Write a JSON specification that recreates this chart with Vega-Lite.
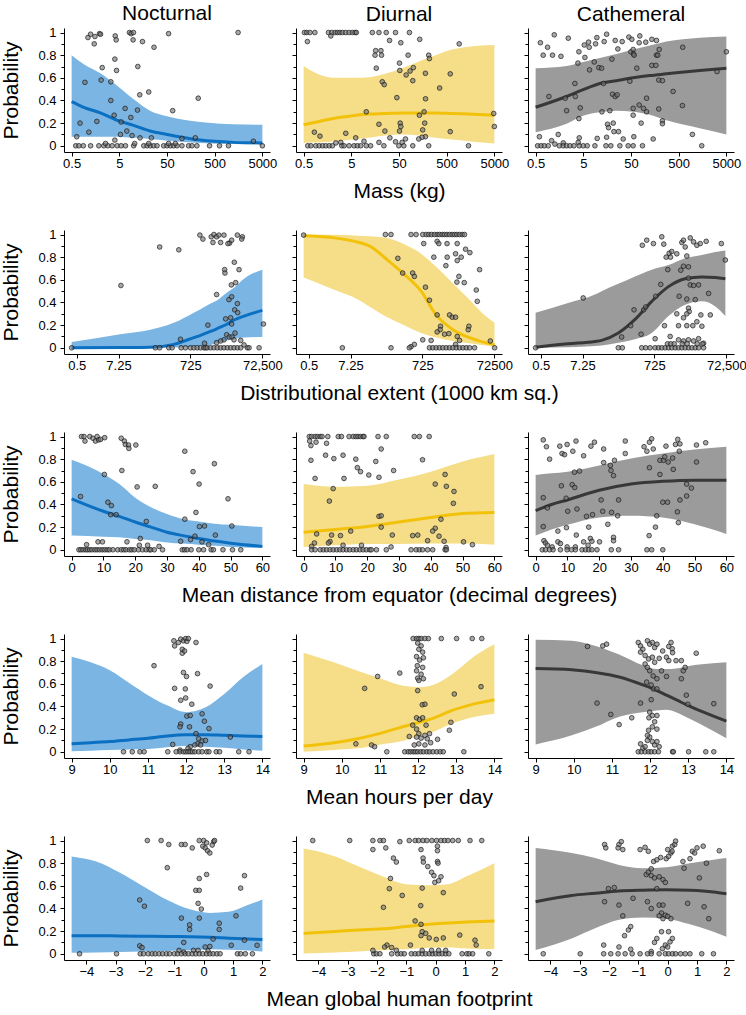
{
  "$schema": "https://vega.github.io/schema/vega-lite/v6.json",
  "background": "white",
  "padding": {"left": 0, "top": 2, "right": 0, "bottom": 2},
  "config": {
    "font": "Liberation Sans",
    "view": {"stroke": null},
    "title": {"font": "Liberation Sans", "fontSize": 21, "fontWeight": "normal", "color": "#000", "offset": 3},
    "axis": {"grid": false, "domainColor": "#000", "tickColor": "#000", "tickSize": 4, "labelFont": "Liberation Sans", "labelFontSize": 13, "labelColor": "#000", "labelPadding": 4, "titleFont": "Liberation Sans", "titleFontSize": 21, "titleFontWeight": "normal", "titleColor": "#000", "titlePadding": 16},
    "axisX": {"tickSize": 4, "labelPadding": 1, "titlePadding": 10}
  },
  "datasets": {
    "p1N": [
      {"x":1.10,"y":0.956},{"x":1.25,"y":0.985},{"x":1.54,"y":0.965},{"x":1.49,"y":0.90},{"x":1.92,"y":0.99},{"x":2.02,"y":0.985},{"x":4.1,"y":0.97},{"x":4.3,"y":0.935},{"x":8.16,"y":1},{"x":8.84,"y":0.99},{"x":9.89,"y":1},{"x":9.73,"y":0.935},{"x":15.3,"y":0.92},{"x":26.7,"y":0.87},{"x":54,"y":0.99},{"x":1549,"y":1},
      {"x":4.03,"y":0.765},{"x":4.37,"y":0.665},{"x":2.19,"y":0.69},{"x":12.2,"y":0.70},{"x":0.95,"y":0.56},{"x":2.08,"y":0.58},{"x":3.32,"y":0.565},{"x":20.7,"y":0.475},{"x":13.4,"y":0.45},{"x":226,"y":0.42},{"x":3.32,"y":0.40},{"x":65.8,"y":0.31},{"x":12.0,"y":0.315},{"x":6.62,"y":0.33},{"x":3.9,"y":0.27},{"x":5.46,"y":0.21},{"x":8.71,"y":0.25},{"x":1.69,"y":0.215},{"x":0.75,"y":0.20},{"x":7.18,"y":0.13},{"x":1.15,"y":0.12},{"x":5.29,"y":0.10},{"x":9.27,"y":0.09},{"x":0.64,"y":0.08},{"x":4.03,"y":0.05},{"x":13.6,"y":0.07},{"x":23.5,"y":0.07},{"x":196,"y":0.07},{"x":103,"y":0.065},{"x":3243,"y":0.04},
      {"x":0.61,"y":0},{"x":0.71,"y":0},{"x":0.88,"y":0},{"x":1.25,"y":0},{"x":1.86,"y":0},{"x":2.37,"y":0},{"x":2.88,"y":0},{"x":3.54,"y":0},{"x":4.51,"y":0},{"x":5.46,"y":0},{"x":6.73,"y":0},{"x":10,"y":0},{"x":16.3,"y":0},{"x":19.1,"y":0},{"x":22.4,"y":0},{"x":26.3,"y":0},{"x":30.9,"y":0},{"x":42.6,"y":0},{"x":50,"y":0},{"x":58.7,"y":0},{"x":68.9,"y":0},{"x":81,"y":0},{"x":103,"y":0},{"x":142,"y":0},{"x":167,"y":0},{"x":212,"y":0},{"x":390,"y":0},{"x":631,"y":0},{"x":973,"y":0},{"x":5000,"y":0},
      {"x":2.57,"y":0.02},{"x":10.5,"y":0.02},{"x":20.7,"y":0.02},{"x":54,"y":0.02},{"x":74.7,"y":0.02}
    ],
    "f1N": [
      {"x":0.5,"lo":0.08,"fit":0.39,"hi":0.80},{"x":0.9,"lo":0.08,"fit":0.34,"hi":0.72},{"x":2,"lo":0.08,"fit":0.29,"hi":0.64},{"x":4.2,"lo":0.08,"fit":0.23,"hi":0.54},{"x":10,"lo":0.07,"fit":0.18,"hi":0.41},{"x":22,"lo":0.06,"fit":0.13,"hi":0.31},{"x":50,"lo":0.045,"fit":0.10,"hi":0.26},{"x":250,"lo":0.025,"fit":0.05,"hi":0.21},{"x":1250,"lo":0.015,"fit":0.03,"hi":0.19},{"x":5000,"lo":0.012,"fit":0.025,"hi":0.185}
    ],
    "p1D": [
      {"x":0.52,"y":1},{"x":0.58,"y":1},{"x":0.68,"y":1},{"x":0.86,"y":1},{"x":1.66,"y":1},{"x":1.95,"y":1},{"x":2.29,"y":1},{"x":2.56,"y":1},{"x":2.87,"y":1},{"x":3.26,"y":1},{"x":3.82,"y":1},{"x":4.49,"y":1},{"x":5.27,"y":1},{"x":5.99,"y":1},{"x":6.38,"y":1},{"x":13.8,"y":1},{"x":19.0,"y":1},{"x":27.0,"y":1},{"x":42.3,"y":1},{"x":82.8,"y":1},
      {"x":0.6,"y":0.92},{"x":1.86,"y":0.97},{"x":31.7,"y":0.93},{"x":54.6,"y":0.91},{"x":136,"y":0.94},{"x":916,"y":0.90},{"x":16.2,"y":0.84},{"x":20.9,"y":0.84},{"x":15.7,"y":0.80},{"x":21.5,"y":0.80},{"x":77.7,"y":0.80},{"x":210,"y":0.80},{"x":217,"y":0.77},{"x":51.2,"y":0.73},{"x":16.7,"y":0.685},{"x":100,"y":0.69},{"x":52,"y":0.665},{"x":85.5,"y":0.66},{"x":70.6,"y":0.625},{"x":179,"y":0.64},{"x":594,"y":0.635},{"x":22.3,"y":0.565},{"x":24.5,"y":0.54},{"x":97.2,"y":0.575},{"x":356,"y":0.51},{"x":45.1,"y":0.425},{"x":180,"y":0.415},{"x":10.3,"y":0.30},{"x":134,"y":0.27},{"x":168,"y":0.30},{"x":4842,"y":0.285},{"x":19.0,"y":0.19},{"x":52.9,"y":0.20},{"x":54.6,"y":0.17},{"x":173,"y":0.20},{"x":5000,"y":0.17},{"x":0.84,"y":0.12},{"x":1.10,"y":0.085},{"x":3.82,"y":0.11},{"x":25.3,"y":0.13},{"x":51.2,"y":0.13},{"x":157,"y":0.14},{"x":594,"y":0.125},{"x":179,"y":0.08},{"x":152,"y":0.075},{"x":6.18,"y":0.07},{"x":32.2,"y":0.07},{"x":68.4,"y":0.06},{"x":130,"y":0.06},{"x":3.01,"y":0.03},{"x":9.23,"y":0.04},{"x":19.0,"y":0.03},{"x":42.3,"y":0.035},{"x":58.2,"y":0.03},{"x":2.37,"y":0.025},
      {"x":0.61,"y":0},{"x":0.71,"y":0},{"x":0.90,"y":0},{"x":1.06,"y":0},{"x":1.25,"y":0},{"x":1.46,"y":0},{"x":1.72,"y":0},{"x":2.01,"y":0},{"x":3.16,"y":0},{"x":3.53,"y":0},{"x":4.49,"y":0},{"x":5.71,"y":0},{"x":6.70,"y":0},{"x":7.87,"y":0},{"x":10.3,"y":0},{"x":12.7,"y":0},{"x":24.1,"y":0},{"x":49.6,"y":0},{"x":63.1,"y":0},{"x":97.2,"y":0},{"x":210,"y":0},{"x":1432,"y":0}
    ],
    "f1D": [
      {"x":0.5,"lo":0.025,"fit":0.185,"hi":0.705},{"x":1.06,"lo":0.03,"fit":0.215,"hi":0.63},{"x":2.37,"lo":0.04,"fit":0.245,"hi":0.60},{"x":5.27,"lo":0.055,"fit":0.265,"hi":0.60},{"x":11.7,"lo":0.07,"fit":0.28,"hi":0.605},{"x":26,"lo":0.09,"fit":0.285,"hi":0.635},{"x":58,"lo":0.10,"fit":0.29,"hi":0.685},{"x":130,"lo":0.09,"fit":0.29,"hi":0.745},{"x":290,"lo":0.07,"fit":0.29,"hi":0.80},{"x":644,"lo":0.055,"fit":0.285,"hi":0.85},{"x":1432,"lo":0.04,"fit":0.28,"hi":0.875},{"x":5000,"lo":0.02,"fit":0.27,"hi":0.89}
    ],
    "p1C": [
      {"x":0.63,"y":0.91},{"x":1.23,"y":0.98},{"x":0.89,"y":0.87},{"x":0.72,"y":0.80},{"x":1.13,"y":0.80},{"x":1.70,"y":0.79},{"x":2.42,"y":0.95},{"x":4.04,"y":0.83},{"x":3.85,"y":0.73},{"x":5.23,"y":0.89},{"x":5.40,"y":0.78},{"x":6.44,"y":0.915},{"x":6.65,"y":0.87},{"x":6.76,"y":0.67},{"x":8.47,"y":0.74},{"x":9.03,"y":0.90},{"x":9.62,"y":0.955},{"x":10.6,"y":0.69},{"x":12.1,"y":0.685},{"x":13.7,"y":0.92},{"x":15.4,"y":0.985},{"x":19.9,"y":0.765},{"x":23.3,"y":0.93},{"x":26.5,"y":0.855},{"x":32.7,"y":0.92},{"x":45.1,"y":0.96},{"x":49.7,"y":0.83},{"x":52.0,"y":0.94},{"x":55.5,"y":0.85},{"x":56.4,"y":0.81},{"x":58.2,"y":0.80},{"x":74.1,"y":0.91},{"x":76.5,"y":0.97},{"x":102,"y":0.915},{"x":137,"y":0.94},{"x":171,"y":0.93},{"x":171,"y":0.80},{"x":195,"y":0.85},{"x":182,"y":0.80},{"x":66.2,"y":0.685},{"x":137,"y":0.71},{"x":166,"y":0.71},{"x":608,"y":0.87},{"x":5000,"y":0.83},{"x":3191,"y":0.655},
      {"x":3.33,"y":0.55},{"x":0.95,"y":0.435},{"x":2.09,"y":0.42},{"x":3.4,"y":0.435},{"x":13.3,"y":0.55},{"x":20.5,"y":0.455},{"x":23.3,"y":0.435},{"x":25.6,"y":0.45},{"x":47.3,"y":0.57},{"x":106,"y":0.42},{"x":191,"y":0.58},{"x":228,"y":0.575},{"x":382,"y":0.48},
      {"x":2.23,"y":0.31},{"x":4.31,"y":0.335},{"x":4.04,"y":0.24},{"x":12.3,"y":0.30},{"x":18.0,"y":0.31},{"x":55.5,"y":0.33},{"x":55.5,"y":0.27},{"x":74.1,"y":0.36},{"x":91.4,"y":0.33},{"x":106,"y":0.30},{"x":191,"y":0.325},{"x":599,"y":0.355},{"x":228,"y":0.22},{"x":228,"y":0.195},{"x":81.6,"y":0.20},
      {"x":16.1,"y":0.19},{"x":16.9,"y":0.16},{"x":21.9,"y":0.125},{"x":27.4,"y":0.125},{"x":21.2,"y":0.20},{"x":1.49,"y":0.10},{"x":0.60,"y":0.08},{"x":1.08,"y":0.045},{"x":1.90,"y":0.025},{"x":4.11,"y":0.07},{"x":9.78,"y":0.065},{"x":15.4,"y":0.075},{"x":34.3,"y":0.06},{"x":57.3,"y":0.08},{"x":146,"y":0.06},{"x":970,"y":0.10},{"x":1.27,"y":0.015},{"x":3.91,"y":0.03},
      {"x":0.55,"y":0},{"x":0.65,"y":0},{"x":0.76,"y":0},{"x":0.92,"y":0},{"x":1.57,"y":0},{"x":1.90,"y":0},{"x":2.23,"y":0},{"x":2.62,"y":0},{"x":3.18,"y":0},{"x":4.11,"y":0},{"x":4.98,"y":0},{"x":6.04,"y":0},{"x":8.75,"y":0},{"x":14.9,"y":0},{"x":18.9,"y":0},{"x":29.2,"y":0},{"x":43.6,"y":0},{"x":55.5,"y":0},{"x":87.1,"y":0},{"x":1521,"y":0}
    ],
    "f1C": [
      {"x":0.5,"lo":0.12,"fit":0.34,"hi":0.685},{"x":2.23,"lo":0.195,"fit":0.435,"hi":0.705},{"x":4.98,"lo":0.265,"fit":0.495,"hi":0.74},{"x":11.1,"lo":0.295,"fit":0.55,"hi":0.775},{"x":24.8,"lo":0.31,"fit":0.575,"hi":0.81},{"x":55.5,"lo":0.30,"fit":0.60,"hi":0.85},{"x":124,"lo":0.275,"fit":0.62,"hi":0.885},{"x":276,"lo":0.225,"fit":0.635,"hi":0.92},{"x":1380,"lo":0.155,"fit":0.665,"hi":0.955},{"x":5000,"lo":0.10,"fit":0.685,"hi":0.965}
    ],
    "p2N": [
      {"x":0.36,"y":0},{"x":8.45,"y":0.55},{"x":101,"y":0.89},{"x":344,"y":0.865},{"x":1324,"y":0.995},{"x":1607,"y":0.96},{"x":2745,"y":0.98},{"x":3258,"y":1},{"x":3867,"y":0.98},{"x":4490,"y":0.995},{"x":6194,"y":0.995},{"x":8914,"y":0.925},{"x":14590,"y":0.995},{"x":20130,"y":0.98},{"x":19280,"y":0.96},
      {"x":3055,"y":0.93},{"x":5000,"y":0.93},{"x":8000,"y":0.92},{"x":10140,"y":0.95},
      {"x":6459,"y":0.69},{"x":6600,"y":0.66},{"x":16250,"y":0.69},{"x":12030,"y":0.755},{"x":13120,"y":0.575},{"x":9930,"y":0.555},
      {"x":3867,"y":0.47},{"x":8534,"y":0.425},{"x":10140,"y":0.45},{"x":14590,"y":0.39},{"x":12300,"y":0.335},{"x":14900,"y":0.31},
      {"x":6888,"y":0.255},{"x":9500,"y":0.265},{"x":10140,"y":0.21},{"x":2214,"y":0.20},{"x":77600,"y":0.21},
      {"x":383,"y":0.075},{"x":7345,"y":0.115},{"x":8724,"y":0.095},{"x":10360,"y":0.095},{"x":12560,"y":0.13},{"x":6194,"y":0.07},{"x":1788,"y":0.04},{"x":3867,"y":0.045},{"x":5000,"y":0.06},{"x":11780,"y":0.07},{"x":18090,"y":0.065},{"x":22390,"y":0.025},
      {"x":76.8,"y":0},{"x":101,"y":0},{"x":181,"y":0},{"x":224,"y":0},{"x":399,"y":0},{"x":527,"y":0},{"x":727,"y":0},{"x":901,"y":0},{"x":1116,"y":0},{"x":1383,"y":0},{"x":1714,"y":0},{"x":1906,"y":0},{"x":2122,"y":0},{"x":2628,"y":0},{"x":3258,"y":0},{"x":4035,"y":0},{"x":5000,"y":0},{"x":6194,"y":0},{"x":7671,"y":0},{"x":9500,"y":0},{"x":11780,"y":0},{"x":14590,"y":0},{"x":18090,"y":0},{"x":27730,"y":0},{"x":30900,"y":0},{"x":58750,"y":0}
    ],
    "f2N": [
      {"x":0.36,"lo":0,"fit":0,"hi":0.05},{"x":8.1,"lo":0,"fit":0.002,"hi":0.12},{"x":55.7,"lo":0,"fit":0.005,"hi":0.16},{"x":249,"lo":0.003,"fit":0.03,"hi":0.22},{"x":901,"lo":0.01,"fit":0.09,"hi":0.31},{"x":1383,"lo":0.015,"fit":0.11,"hi":0.34},{"x":2628,"lo":0.025,"fit":0.145,"hi":0.39},{"x":4035,"lo":0.045,"fit":0.17,"hi":0.42},{"x":7671,"lo":0.065,"fit":0.21,"hi":0.49},{"x":11780,"lo":0.08,"fit":0.245,"hi":0.53},{"x":22390,"lo":0.09,"fit":0.28,"hi":0.61},{"x":72500,"lo":0.095,"fit":0.33,"hi":0.69}
    ],
    "p2D": [
      {"x":0.36,"y":0.995},{"x":4.3,"y":0},
      {"x":67.6,"y":1},{"x":96.8,"y":1},{"x":349,"y":1},{"x":482,"y":1},{"x":738,"y":1},{"x":917,"y":1},{"x":1086,"y":1},{"x":1291,"y":1},{"x":1567,"y":1},{"x":1858,"y":1},{"x":2158,"y":1},{"x":2566,"y":1},{"x":2979,"y":1},{"x":3459,"y":1},{"x":4106,"y":1},{"x":4872,"y":1},{"x":5664,"y":1},{"x":6577,"y":1},{"x":7800,"y":1},{"x":9268,"y":1},{"x":10740,"y":1},
      {"x":787,"y":0.92},{"x":1858,"y":0.94},{"x":2067,"y":0.92},{"x":3500,"y":0.92},{"x":6700,"y":0.92},{"x":11460,"y":0.87},
      {"x":150,"y":0.79},{"x":1500,"y":0.80},{"x":3531,"y":0.80},{"x":6041,"y":0.83},{"x":6720,"y":0.77},{"x":8676,"y":0.80},{"x":15100,"y":0.84},
      {"x":3246,"y":0.725},{"x":28110,"y":0.69},{"x":7475,"y":0.63},{"x":6577,"y":0.58},{"x":10520,"y":0.575},{"x":204,"y":0.66},{"x":387,"y":0.66},{"x":432,"y":0.63},
      {"x":879,"y":0.535},{"x":22730,"y":0.51},{"x":24260,"y":0.41},{"x":1135,"y":0.42},
      {"x":1858,"y":0.29},{"x":4106,"y":0.29},{"x":4872,"y":0.27},{"x":6041,"y":0.27},
      {"x":2302,"y":0.19},{"x":14190,"y":0.19},{"x":2256,"y":0.16},{"x":1858,"y":0.14},{"x":2979,"y":0.12},{"x":3935,"y":0.125},{"x":13590,"y":0.16},{"x":6720,"y":0.10},{"x":1265,"y":0.065},{"x":7800,"y":0.065},{"x":738,"y":0.07},{"x":349,"y":0.01},{"x":432,"y":0.03},{"x":55840,"y":0.06},{"x":6041,"y":0.03},
      {"x":96.8,"y":0},{"x":313,"y":0},{"x":1135,"y":0},{"x":1406,"y":0},{"x":1742,"y":0},{"x":2158,"y":0},{"x":2674,"y":0},{"x":3314,"y":0},{"x":4106,"y":0},{"x":5083,"y":0},{"x":6310,"y":0},{"x":7800,"y":0},{"x":9663,"y":0},{"x":11960,"y":0},{"x":14820,"y":0},{"x":20400,"y":0},{"x":73620,"y":0}
    ],
    "f2D": [
      {"x":0.36,"lo":0.62,"fit":0.99,"hi":0.995},{"x":2.0,"lo":0.525,"fit":0.975,"hi":0.998},{"x":12.6,"lo":0.42,"fit":0.93,"hi":0.99},{"x":24,"lo":0.365,"fit":0.90,"hi":0.985},{"x":87.5,"lo":0.26,"fit":0.76,"hi":0.965},{"x":204,"lo":0.205,"fit":0.66,"hi":0.92},{"x":665,"lo":0.13,"fit":0.50,"hi":0.83},{"x":1742,"lo":0.09,"fit":0.29,"hi":0.715},{"x":5083,"lo":0.06,"fit":0.16,"hi":0.57},{"x":14820,"lo":0.04,"fit":0.09,"hi":0.425},{"x":41400,"lo":0.02,"fit":0.045,"hi":0.28},{"x":73000,"lo":0.012,"fit":0.025,"hi":0.22}
    ],
    "p2C": [
      {"x":0.36,"y":0},{"x":7.57,"y":0.44},{"x":71.6,"y":0},{"x":92.7,"y":0},{"x":88.7,"y":0.095},{"x":158,"y":0.195},{"x":196,"y":0.335},{"x":308,"y":0.12},{"x":334,"y":0.905},{"x":442,"y":0.95},{"x":364,"y":0.335},{"x":414,"y":0.36},{"x":679,"y":0.92},{"x":787,"y":0.455},{"x":1086,"y":0.56},{"x":1157,"y":0.98},{"x":1316,"y":0.915},{"x":757,"y":0.08},{"x":1377,"y":0.195},{"x":1535,"y":0.80},{"x":1703,"y":0.69},{"x":1862,"y":0.835},{"x":2023,"y":0.80},{"x":2197,"y":0.85},{"x":3027,"y":0.83},{"x":3530,"y":0.455},{"x":3920,"y":0.685},{"x":4180,"y":0.93},{"x":4660,"y":0.95},{"x":5190,"y":0.89},{"x":5750,"y":0.81},{"x":4660,"y":0.72},{"x":6410,"y":0.715},{"x":7160,"y":0.97},{"x":8850,"y":0.935},{"x":10940,"y":0.905},{"x":13620,"y":0.92},{"x":19900,"y":0.94},{"x":6410,"y":0.615},{"x":7160,"y":0.555},{"x":8850,"y":0.55},{"x":12210,"y":0.555},{"x":23200,"y":0.48},{"x":52500,"y":0.92},{"x":67900,"y":0.775},{"x":25880,"y":0.29},{"x":14130,"y":0.29},{"x":9860,"y":0.425},{"x":5750,"y":0.43},{"x":6410,"y":0.35},{"x":6710,"y":0.32},{"x":5750,"y":0.30},{"x":4660,"y":0.265},{"x":3380,"y":0.195},{"x":5750,"y":0.195},{"x":8460,"y":0.195},{"x":10940,"y":0.23},{"x":3027,"y":0.30},{"x":15100,"y":0.19},
      {"x":1982,"y":0.10},{"x":3380,"y":0.07},{"x":4660,"y":0.06},{"x":6410,"y":0.07},{"x":8850,"y":0.06},{"x":12210,"y":0.08},{"x":16830,"y":0.04},
      {"x":320,"y":0},{"x":414,"y":0},{"x":549,"y":0},{"x":757,"y":0},{"x":935,"y":0},{"x":1157,"y":0},{"x":1439,"y":0},{"x":1778,"y":0},{"x":2197,"y":0},{"x":2735,"y":0},{"x":3380,"y":0},{"x":4180,"y":0},{"x":5190,"y":0},{"x":6410,"y":0},{"x":7940,"y":0},{"x":9860,"y":0},{"x":12210,"y":0},{"x":16830,"y":0},
      {"x":1667,"y":0.035},{"x":2063,"y":0.035},{"x":2565,"y":0.035},{"x":4300,"y":0.035},{"x":5900,"y":0.035},{"x":11200,"y":0.035},{"x":15500,"y":0.035}
    ],
    "f2C": [
      {"x":0.36,"lo":0,"fit":0.005,"hi":0.31},{"x":2.88,"lo":0.005,"fit":0.035,"hi":0.395},{"x":16,"lo":0.015,"fit":0.055,"hi":0.47},{"x":24.6,"lo":0.02,"fit":0.065,"hi":0.50},{"x":71.8,"lo":0.045,"fit":0.13,"hi":0.565},{"x":209,"lo":0.075,"fit":0.25,"hi":0.63},{"x":610,"lo":0.13,"fit":0.41,"hi":0.69},{"x":1778,"lo":0.28,"fit":0.54,"hi":0.73},{"x":5190,"lo":0.38,"fit":0.61,"hi":0.79},{"x":15100,"lo":0.41,"fit":0.625,"hi":0.82},{"x":35600,"lo":0.365,"fit":0.62,"hi":0.845},{"x":67900,"lo":0.28,"fit":0.61,"hi":0.86}
    ],
    "p3N": [
      {"x":2.8,"y":0.47},{"x":3.1,"y":1},{"x":3.9,"y":1},{"x":4.2,"y":0.96},{"x":5.7,"y":1},{"x":6.7,"y":0.985},{"x":7.5,"y":0.96},{"x":8.0,"y":1},{"x":8.5,"y":0.97},{"x":9.1,"y":0.975},{"x":10.4,"y":0.99},{"x":15.6,"y":0.985},{"x":16.6,"y":0.96},{"x":16.9,"y":0.93},{"x":17.9,"y":0.925},{"x":18.0,"y":0.895},{"x":20.2,"y":0.925},
      {"x":10.3,"y":0.665},{"x":15.8,"y":0.70},{"x":20.6,"y":0.555},{"x":26.3,"y":0.56},{"x":35.6,"y":0.87},{"x":38.2,"y":0.69},{"x":40.1,"y":0.58},{"x":44.9,"y":0.76},{"x":49.2,"y":0.45},
      {"x":11.4,"y":0.42},{"x":12.5,"y":0.39},{"x":12.3,"y":0.31},{"x":14.0,"y":0.31},{"x":23.5,"y":0.25},{"x":35.6,"y":0.27},{"x":39.1,"y":0.33},{"x":40.2,"y":0.205},{"x":41.8,"y":0.21},{"x":38.8,"y":0.12},{"x":45.2,"y":0.13},{"x":50.4,"y":0.21},{"x":21.6,"y":0.10},{"x":34.3,"y":0.075},{"x":37.4,"y":0.09},{"x":41.0,"y":0.07},{"x":43.1,"y":0.045},
      {"x":8.3,"y":0.07},{"x":9.7,"y":0.07},{"x":17.4,"y":0.07},{"x":4.7,"y":0.045},{"x":21.3,"y":0.04},{"x":23.9,"y":0.04},{"x":27.5,"y":0.03},
      {"x":2.3,"y":0},{"x":2.9,"y":0},{"x":3.6,"y":0},{"x":4.4,"y":0},{"x":5.0,"y":0},{"x":5.7,"y":0},{"x":6.4,"y":0},{"x":7.3,"y":0},{"x":8.0,"y":0},{"x":8.8,"y":0},{"x":9.6,"y":0},{"x":10.4,"y":0},{"x":11.2,"y":0},{"x":11.9,"y":0},{"x":13.0,"y":0},{"x":14.5,"y":0},{"x":15.6,"y":0},{"x":16.4,"y":0},{"x":17.1,"y":0},{"x":18.2,"y":0},{"x":18.9,"y":0},{"x":19.7,"y":0},{"x":21.0,"y":0},{"x":22.3,"y":0},{"x":23.4,"y":0},{"x":24.4,"y":0},{"x":24.9,"y":0},{"x":26.0,"y":0},{"x":28.6,"y":0},{"x":34.8,"y":0},{"x":35.5,"y":0},{"x":36.3,"y":0},{"x":37.6,"y":0},{"x":40.0,"y":0},{"x":41.5,"y":0},{"x":43.9,"y":0},{"x":44.6,"y":0},{"x":47.6,"y":0},{"x":50.6,"y":0},{"x":53.2,"y":0}
    ],
    "f3N": [
      {"x":0,"lo":0.125,"fit":0.45,"hi":0.795},{"x":10,"lo":0.115,"fit":0.34,"hi":0.67},{"x":15,"lo":0.11,"fit":0.295,"hi":0.58},{"x":20,"lo":0.095,"fit":0.245,"hi":0.46},{"x":25,"lo":0.085,"fit":0.20,"hi":0.375},{"x":30,"lo":0.065,"fit":0.155,"hi":0.315},{"x":35,"lo":0.055,"fit":0.125,"hi":0.27},{"x":40,"lo":0.045,"fit":0.10,"hi":0.25},{"x":45,"lo":0.035,"fit":0.077,"hi":0.23},{"x":50,"lo":0.025,"fit":0.058,"hi":0.22},{"x":60,"lo":0.015,"fit":0.03,"hi":0.20}
    ],
    "p3D": [
      {"x":1.8,"y":1},{"x":2.5,"y":1},{"x":3.6,"y":1},{"x":4.3,"y":1},{"x":5.2,"y":1},{"x":5.8,"y":1},{"x":7.6,"y":1},{"x":10.9,"y":1},{"x":11.9,"y":1},{"x":14.3,"y":1},{"x":15.6,"y":1},{"x":16.4,"y":1},{"x":17.1,"y":1},{"x":17.9,"y":1},{"x":18.7,"y":1},{"x":19.0,"y":1},
      {"x":1.9,"y":0.96},{"x":2.3,"y":0.92},{"x":3.9,"y":0.95},{"x":7.2,"y":0.94},{"x":2.3,"y":0.79},{"x":6.9,"y":0.835},{"x":9.5,"y":0.805},{"x":12.4,"y":0.835},{"x":16.4,"y":0.80},{"x":16.9,"y":0.725},{"x":17.9,"y":0.69},{"x":20.5,"y":0.66},{"x":3.6,"y":0.63},{"x":12.7,"y":0.63},
      {"x":9.3,"y":0.54},{"x":8.1,"y":0.43},{"x":4.1,"y":0.14},{"x":8.8,"y":0.13},{"x":11.6,"y":0.125},{"x":14.8,"y":0.165},{"x":3.4,"y":0.06},{"x":2.5,"y":0.03},{"x":8.3,"y":0.073},{"x":7.8,"y":0.06},
      {"x":2.5,"y":0},{"x":3.6,"y":0},{"x":5.2,"y":0},{"x":6.2,"y":0},{"x":7.2,"y":0},{"x":8.3,"y":0},{"x":9.3,"y":0},{"x":10.4,"y":0},{"x":11.4,"y":0},{"x":12.4,"y":0},{"x":13.5,"y":0},{"x":14.5,"y":0},{"x":15.6,"y":0},{"x":16.6,"y":0},{"x":17.7,"y":0},{"x":18.7,"y":0},{"x":19.7,"y":0},{"x":20.8,"y":0},{"x":12.4,"y":0.04},{"x":18.2,"y":0.04},
      {"x":23.4,"y":1},{"x":26.0,"y":1},{"x":34.8,"y":1},{"x":36.4,"y":1},{"x":39.5,"y":1},
      {"x":24.4,"y":0.89},{"x":22.7,"y":0.78},{"x":37.4,"y":0.795},{"x":28.3,"y":0.70},{"x":23.7,"y":0.64},
      {"x":44.5,"y":0.665},{"x":41.4,"y":0.58},{"x":44.9,"y":0.56},{"x":47.3,"y":0.515},{"x":47.1,"y":0.41},
      {"x":23.7,"y":0.295},{"x":24.4,"y":0.30},{"x":24.4,"y":0.20},{"x":43.2,"y":0.27},{"x":41.4,"y":0.19},{"x":40.6,"y":0.165},{"x":42.6,"y":0.12},{"x":34.3,"y":0.125},{"x":35.9,"y":0.13},{"x":27.9,"y":0.13},
      {"x":39.0,"y":0.08},{"x":44.2,"y":0.075},{"x":44.8,"y":0.02},{"x":50.3,"y":0.07},{"x":53.1,"y":0.045},{"x":27.5,"y":0.025},
      {"x":21.3,"y":0},{"x":22.9,"y":0},{"x":26.0,"y":0},{"x":33.8,"y":0},{"x":35.4,"y":0},{"x":36.4,"y":0},{"x":37.4,"y":0},{"x":39.0,"y":0},{"x":40.6,"y":0},{"x":44.5,"y":0},{"x":44.9,"y":0}
    ],
    "f3D": [
      {"x":0,"lo":0.025,"fit":0.155,"hi":0.58},{"x":10,"lo":0.04,"fit":0.18,"hi":0.555},{"x":20,"lo":0.05,"fit":0.205,"hi":0.565},{"x":30,"lo":0.05,"fit":0.245,"hi":0.62},{"x":40,"lo":0.055,"fit":0.285,"hi":0.69},{"x":50,"lo":0.055,"fit":0.32,"hi":0.78},{"x":60,"lo":0.045,"fit":0.33,"hi":0.845}
    ],
    "p3C": [
      {"x":2.4,"y":0.97},{"x":3.4,"y":0.91},{"x":4.4,"y":0.80},{"x":2.4,"y":0.46},{"x":3.7,"y":0.37},{"x":2.4,"y":0.205},{"x":2.6,"y":0.08},
      {"x":7.6,"y":0.915},{"x":8.3,"y":0.85},{"x":9.1,"y":0.84},{"x":9.9,"y":0.93},{"x":11.7,"y":0.87},{"x":12.7,"y":0.96},{"x":15.1,"y":0.83},{"x":17.4,"y":0.915},{"x":18.5,"y":0.95},{"x":21.4,"y":0.89},{"x":12.2,"y":0.685},{"x":13.8,"y":0.695},{"x":8.1,"y":0.565},{"x":11.5,"y":0.575},{"x":12.3,"y":0.55},{"x":9.6,"y":0.455},{"x":10.1,"y":0.34},{"x":13.0,"y":0.36},{"x":9.7,"y":0.195},{"x":7.0,"y":0.165},{"x":12.8,"y":0.13},{"x":16.0,"y":0.295},{"x":17.9,"y":0.31},{"x":16.7,"y":0.20},{"x":21.4,"y":0.77},{"x":23.5,"y":0.745},{"x":23.7,"y":0.70},{"x":24.5,"y":0.655},{"x":24.8,"y":0.79},{"x":20.6,"y":0.44},{"x":21.1,"y":0.34},{"x":22.7,"y":0.225},{"x":26.1,"y":0.44},{"x":23.9,"y":0.33},{"x":24.5,"y":0.11},{"x":28.2,"y":0.96},{"x":28.2,"y":0.85},{"x":25.8,"y":0.30},
      {"x":34.1,"y":0.91},{"x":35.0,"y":0.87},{"x":35.8,"y":0.95},{"x":37.0,"y":0.89},{"x":36.5,"y":0.98},{"x":35.8,"y":0.725},{"x":38.1,"y":0.30},{"x":39.1,"y":0.79},{"x":40.2,"y":0.79},{"x":40.6,"y":0.82},{"x":41.7,"y":0.775},{"x":43.1,"y":0.81},{"x":43.3,"y":0.71},{"x":39.1,"y":0.665},{"x":40.0,"y":0.42},{"x":41.5,"y":0.42},{"x":37.7,"y":0.20},{"x":35.7,"y":0.125},{"x":41.0,"y":0.915},{"x":44.0,"y":0.93},{"x":44.7,"y":0.975},{"x":45.4,"y":0.935},{"x":45.2,"y":0.87},{"x":47.5,"y":0.58},{"x":49.0,"y":0.545},{"x":47.5,"y":0.475},{"x":45.4,"y":0.44},{"x":44.6,"y":0.335},{"x":44.9,"y":0.24},{"x":50.6,"y":0.925},{"x":50.6,"y":0.775},{"x":53.5,"y":0.945},
      {"x":3.1,"y":0.06},{"x":3.7,"y":0.04},{"x":5.2,"y":0.025},{"x":7.0,"y":0.07},{"x":7.8,"y":0.055},{"x":9.9,"y":0.025},{"x":12.5,"y":0.025},{"x":15.1,"y":0.07},{"x":16.5,"y":0.04},{"x":17.2,"y":0.10},{"x":17.7,"y":0.075},{"x":20.1,"y":0.07},{"x":24.5,"y":0.08},
      {"x":2.1,"y":0},{"x":3.1,"y":0},{"x":4.4,"y":0},{"x":5.5,"y":0},{"x":7.8,"y":0},{"x":9.9,"y":0},{"x":11.3,"y":0},{"x":12.5,"y":0},{"x":14.6,"y":0},{"x":15.7,"y":0},{"x":16.7,"y":0},{"x":17.7,"y":0},{"x":19.3,"y":0},{"x":23.8,"y":0},{"x":26.1,"y":0},{"x":35.0,"y":0},{"x":36.5,"y":0},{"x":40.0,"y":0}
    ],
    "f3C": [
      {"x":0,"lo":0.125,"fit":0.345,"hi":0.66},{"x":5,"lo":0.18,"fit":0.40,"hi":0.675},{"x":10,"lo":0.22,"fit":0.44,"hi":0.69},{"x":20,"lo":0.285,"fit":0.525,"hi":0.745},{"x":30,"lo":0.30,"fit":0.58,"hi":0.805},{"x":40,"lo":0.285,"fit":0.605,"hi":0.85},{"x":50,"lo":0.225,"fit":0.615,"hi":0.885},{"x":60,"lo":0.14,"fit":0.615,"hi":0.91}
    ],
    "p4N": [
      {"x":11.16,"y":0.76},{"x":11.68,"y":0.98},{"x":11.70,"y":0.935},{"x":11.80,"y":0.965},{"x":11.86,"y":0.995},{"x":11.93,"y":0.98},{"x":11.99,"y":1},{"x":12.02,"y":0.975},{"x":12.06,"y":1},{"x":11.90,"y":0.905},{"x":11.90,"y":0.87},{"x":11.96,"y":0.89},{"x":12.26,"y":0.965},{"x":11.93,"y":0.70},{"x":12.01,"y":0.665},{"x":12.30,"y":0.69},{"x":11.70,"y":0.56},{"x":11.98,"y":0.555},{"x":12.63,"y":0.58},{"x":11.86,"y":0.455},{"x":11.99,"y":0.475},{"x":12.15,"y":0.42},{"x":12.02,"y":0.315},{"x":12.11,"y":0.32},{"x":12.42,"y":0.335},{"x":12.48,"y":0.27},{"x":11.86,"y":0.245},{"x":11.84,"y":0.22},{"x":12.09,"y":0.22},{"x":12.60,"y":0.205},{"x":13.16,"y":0.13},{"x":12.26,"y":0.16},{"x":12.33,"y":0.115},{"x":12.42,"y":0.095},{"x":12.51,"y":0.10},{"x":12.30,"y":0.07},{"x":11.65,"y":0.065},{"x":12.11,"y":0.045},{"x":12.23,"y":0.06},{"x":12.38,"y":0.06},{"x":12.05,"y":0.03},{"x":11.84,"y":0.015},
      {"x":10.36,"y":0},{"x":10.59,"y":0},{"x":10.79,"y":0},{"x":10.90,"y":0},{"x":11.52,"y":0},{"x":11.74,"y":0},{"x":11.84,"y":0},{"x":11.93,"y":0},{"x":11.99,"y":0},{"x":12.05,"y":0},{"x":12.11,"y":0},{"x":12.17,"y":0},{"x":12.23,"y":0},{"x":12.33,"y":0},{"x":12.42,"y":0},{"x":12.54,"y":0},{"x":12.60,"y":0},{"x":12.79,"y":0},{"x":12.88,"y":0},{"x":13.38,"y":0},{"x":13.65,"y":0}
    ],
    "f4N": [
      {"x":9,"lo":0.005,"fit":0.07,"hi":0.84},{"x":9.5,"lo":0.01,"fit":0.08,"hi":0.79},{"x":10,"lo":0.015,"fit":0.09,"hi":0.72},{"x":10.5,"lo":0.02,"fit":0.105,"hi":0.61},{"x":11,"lo":0.025,"fit":0.12,"hi":0.50},{"x":11.5,"lo":0.04,"fit":0.14,"hi":0.41},{"x":12,"lo":0.05,"fit":0.15,"hi":0.35},{"x":12.5,"lo":0.045,"fit":0.15,"hi":0.39},{"x":13,"lo":0.035,"fit":0.145,"hi":0.51},{"x":13.5,"lo":0.02,"fit":0.14,"hi":0.66},{"x":14,"lo":0.01,"fit":0.135,"hi":0.775}
    ],
    "p4D": [
      {"x":10.37,"y":0.07},{"x":10.78,"y":0.06},{"x":10.86,"y":0.045},{"x":11.18,"y":0},{"x":10.94,"y":0.665},{"x":10.60,"y":0.56},{"x":11.52,"y":0.695},
      {"x":11.87,"y":1},{"x":11.96,"y":1},{"x":12.02,"y":1},{"x":12.08,"y":1},{"x":12.18,"y":1},{"x":12.27,"y":1},{"x":12.61,"y":1},{"x":13.01,"y":1},{"x":13.42,"y":1},{"x":13.67,"y":1},
      {"x":11.99,"y":0.96},{"x":12.08,"y":0.935},{"x":12.02,"y":0.905},{"x":12.12,"y":0.88},{"x":11.96,"y":0.84},{"x":12.04,"y":0.81},{"x":12.14,"y":0.83},{"x":11.98,"y":0.76},{"x":12.12,"y":0.745},{"x":11.96,"y":0.715},{"x":12.08,"y":0.685},{"x":11.99,"y":0.65},{"x":12.14,"y":0.645},{"x":12.02,"y":0.63},
      {"x":11.99,"y":0.54},{"x":12.11,"y":0.415},{"x":12.18,"y":0.42},{"x":12.95,"y":0.51},{"x":13.65,"y":0.575},{"x":11.96,"y":0.30},{"x":12.04,"y":0.285},{"x":12.12,"y":0.30},{"x":11.86,"y":0.235},{"x":11.96,"y":0.20},{"x":12.21,"y":0.235},{"x":12.02,"y":0.16},{"x":12.18,"y":0.145},{"x":12.30,"y":0.16},{"x":11.77,"y":0.135},{"x":11.96,"y":0.13},{"x":12.08,"y":0.12},{"x":12.24,"y":0.115},{"x":12.51,"y":0.11},{"x":12.82,"y":0.19},{"x":12.86,"y":0.26},{"x":12.02,"y":0.07},{"x":11.90,"y":0.06},{"x":12.18,"y":0.06},{"x":12.33,"y":0.08},
      {"x":11.65,"y":0},{"x":11.74,"y":0},{"x":11.80,"y":0},{"x":11.87,"y":0},{"x":11.93,"y":0},{"x":11.99,"y":0},{"x":12.07,"y":0},{"x":12.14,"y":0},{"x":12.23,"y":0},{"x":12.30,"y":0},{"x":12.39,"y":0},{"x":12.49,"y":0},{"x":12.58,"y":0},{"x":12.66,"y":0},{"x":13.20,"y":0}
    ],
    "f4D": [
      {"x":9,"lo":0,"fit":0.05,"hi":0.875},{"x":9.79,"lo":0.015,"fit":0.08,"hi":0.79},{"x":10.41,"lo":0.03,"fit":0.115,"hi":0.715},{"x":11.03,"lo":0.065,"fit":0.165,"hi":0.645},{"x":11.65,"lo":0.10,"fit":0.225,"hi":0.58},{"x":12.02,"lo":0.14,"fit":0.26,"hi":0.57},{"x":12.39,"lo":0.175,"fit":0.295,"hi":0.59},{"x":12.89,"lo":0.25,"fit":0.365,"hi":0.685},{"x":13.5,"lo":0.31,"fit":0.425,"hi":0.85},{"x":14,"lo":0.335,"fit":0.46,"hi":0.95}
    ],
    "p4C": [
      {"x":10.36,"y":0.93},{"x":10.76,"y":0.935},{"x":10.86,"y":0.95},{"x":10.61,"y":0.43},{"x":10.97,"y":0.33},{"x":11.19,"y":0.24},{"x":11.52,"y":0.30},
      {"x":11.69,"y":0.965},{"x":11.75,"y":0.935},{"x":11.81,"y":0.905},{"x":11.93,"y":0.98},{"x":11.99,"y":0.95},{"x":12.06,"y":0.965},{"x":12.12,"y":0.92},{"x":12.18,"y":0.95},{"x":11.75,"y":0.88},{"x":11.87,"y":0.85},{"x":11.96,"y":0.82},{"x":12.06,"y":0.835},{"x":12.12,"y":0.79},{"x":11.87,"y":0.775},{"x":11.93,"y":0.745},{"x":11.99,"y":0.715},{"x":12.08,"y":0.67},{"x":12.18,"y":0.645},{"x":11.91,"y":0.615},{"x":12.03,"y":0.59},{"x":12.09,"y":0.555},{"x":12.18,"y":0.555},{"x":12.30,"y":0.715},{"x":12.43,"y":0.665},{"x":12.24,"y":0.825},{"x":12.33,"y":0.89},{"x":12.43,"y":0.835},{"x":12.49,"y":0.805},
      {"x":12.49,"y":0.93},{"x":12.55,"y":0.965},{"x":12.58,"y":0.91},{"x":12.59,"y":0.875},{"x":12.68,"y":0.805},{"x":12.82,"y":0.805},{"x":12.87,"y":0.715},{"x":12.82,"y":0.645},{"x":12.92,"y":0.745},
      {"x":11.75,"y":0.43},{"x":12.03,"y":0.46},{"x":11.99,"y":0.35},{"x":12.06,"y":0.32},{"x":12.18,"y":0.32},{"x":11.97,"y":0.30},{"x":12.12,"y":0.265},{"x":12.18,"y":0.20},{"x":12.06,"y":0.22},{"x":11.96,"y":0.19},
      {"x":12.95,"y":0.50},{"x":12.99,"y":0.42},{"x":13.67,"y":0.425},{"x":13.21,"y":0.87},
      {"x":11.75,"y":0.07},{"x":11.81,"y":0.03},{"x":11.87,"y":0.045},{"x":11.93,"y":0.10},{"x":11.99,"y":0.13},{"x":12.06,"y":0.09},{"x":12.12,"y":0.06},{"x":12.18,"y":0.09},{"x":12.24,"y":0.045},{"x":11.93,"y":0.145},
      {"x":11.69,"y":0},{"x":11.77,"y":0},{"x":11.87,"y":0},{"x":11.96,"y":0},{"x":12.03,"y":0},{"x":12.12,"y":0},{"x":12.22,"y":0},{"x":12.59,"y":0},{"x":12.61,"y":0},{"x":13.01,"y":0},{"x":13.46,"y":0},{"x":13.67,"y":0}
    ],
    "f4C": [
      {"x":9,"lo":0.065,"fit":0.735,"hi":0.99},{"x":9.95,"lo":0.145,"fit":0.725,"hi":0.98},{"x":10.57,"lo":0.22,"fit":0.70,"hi":0.935},{"x":11.19,"lo":0.31,"fit":0.66,"hi":0.86},{"x":11.81,"lo":0.35,"fit":0.59,"hi":0.765},{"x":12.18,"lo":0.365,"fit":0.54,"hi":0.73},{"x":12.43,"lo":0.37,"fit":0.50,"hi":0.73},{"x":12.68,"lo":0.35,"fit":0.46,"hi":0.735},{"x":13.05,"lo":0.29,"fit":0.40,"hi":0.76},{"x":13.29,"lo":0.25,"fit":0.365,"hi":0.77},{"x":14,"lo":0.12,"fit":0.27,"hi":0.79}
    ],
    "p5N": [
      {"x":-4.23,"y":0},{"x":-2.97,"y":0},{"x":-2.16,"y":0},{"x":-2.18,"y":0.07},{"x":-2.18,"y":0.475},{"x":-2.02,"y":0.42},{"x":-1.92,"y":1},{"x":-1.45,"y":1},{"x":-1.19,"y":0.965},{"x":-1.24,"y":0.76},
      {"x":-0.76,"y":0.965},{"x":-0.63,"y":0.965},{"x":-0.39,"y":0.935},{"x":-0.15,"y":1},{"x":0,"y":1},{"x":-0.03,"y":0.95},{"x":0.05,"y":0.935},{"x":0.13,"y":0.91},{"x":0.21,"y":0.89},{"x":0.34,"y":0.99},{"x":0.29,"y":0.96},{"x":0.37,"y":1},{"x":0.10,"y":0.98},
      {"x":-0.15,"y":0.665},{"x":0.10,"y":0.70},{"x":-0.27,"y":0.56},{"x":-0.15,"y":0.56},{"x":-0.19,"y":0.445},{"x":-0.08,"y":0.395},{"x":-0.76,"y":0.315},{"x":-0.15,"y":0.315},{"x":-0.48,"y":0.255},{"x":-0.48,"y":0.215},{"x":-0.68,"y":0.10},{"x":0.53,"y":0.27},{"x":0.53,"y":0.215},{"x":1.10,"y":0.335},{"x":1.26,"y":0.58},{"x":1.39,"y":0.69},{"x":1.39,"y":0.12},{"x":0.94,"y":0.075},{"x":1.82,"y":0.075},{"x":0.32,"y":0.13},{"x":-2.10,"y":0.055},{"x":0.05,"y":0.06},{"x":0.21,"y":0.065},{"x":-0.35,"y":0.03},{"x":-0.19,"y":0.03},{"x":0.15,"y":0.025},{"x":-0.84,"y":0.03},{"x":-0.68,"y":0.015},
      {"x":-2.05,"y":0},{"x":-1.89,"y":0},{"x":-1.76,"y":0},{"x":-1.65,"y":0},{"x":-1.52,"y":0},{"x":-1.40,"y":0},{"x":-1.27,"y":0},{"x":-1.16,"y":0},{"x":-1.00,"y":0},{"x":-0.89,"y":0},{"x":-0.76,"y":0},{"x":-0.63,"y":0},{"x":-0.52,"y":0},{"x":-0.39,"y":0},{"x":-0.27,"y":0},{"x":-0.15,"y":0},{"x":-0.03,"y":0},{"x":0.10,"y":0},{"x":0.21,"y":0},{"x":0.32,"y":0},{"x":0.45,"y":0},{"x":0.56,"y":0},{"x":1.15,"y":0},{"x":1.26,"y":0},{"x":1.42,"y":0},{"x":1.66,"y":0}
    ],
    "f5N": [
      {"x":-4.5,"lo":0.01,"fit":0.16,"hi":0.86},{"x":-3.66,"lo":0.012,"fit":0.16,"hi":0.815},{"x":-2.85,"lo":0.015,"fit":0.157,"hi":0.715},{"x":-2.05,"lo":0.02,"fit":0.155,"hi":0.595},{"x":-1.24,"lo":0.025,"fit":0.153,"hi":0.475},{"x":-0.44,"lo":0.03,"fit":0.15,"hi":0.39},{"x":0.21,"lo":0.04,"fit":0.145,"hi":0.36},{"x":0.85,"lo":0.035,"fit":0.138,"hi":0.37},{"x":1.5,"lo":0.028,"fit":0.13,"hi":0.43},{"x":2.0,"lo":0.02,"fit":0.125,"hi":0.48}
    ],
    "p5D": [
      {"x":-4.19,"y":1},{"x":-2.93,"y":1},{"x":-2.14,"y":0.92},{"x":-2.14,"y":1},{"x":-1.90,"y":1},{"x":-1.78,"y":1},{"x":-1.70,"y":0.935},{"x":-1.22,"y":0.99},{"x":-1.44,"y":0.845},{"x":-1.34,"y":0.81},
      {"x":-0.90,"y":1},{"x":-0.70,"y":1},{"x":-0.58,"y":1},{"x":-0.43,"y":1},{"x":-0.30,"y":1},{"x":-0.13,"y":1},{"x":0.03,"y":1},{"x":0.18,"y":1},{"x":0.30,"y":1},{"x":0.42,"y":1},{"x":0.58,"y":1},{"x":0.77,"y":1},{"x":1.17,"y":1},{"x":1.57,"y":1},
      {"x":-0.50,"y":0.92},{"x":-0.43,"y":0.845},{"x":-0.42,"y":0.81},{"x":-0.27,"y":0.77},{"x":-0.14,"y":0.72},{"x":-0.06,"y":0.69},{"x":0.06,"y":0.95},{"x":0.06,"y":0.91},{"x":0.06,"y":0.815},{"x":0.08,"y":0.80},{"x":-0.03,"y":0.63},{"x":0.10,"y":0.645},{"x":0.18,"y":0.68},
      {"x":-1.54,"y":0.665},{"x":-1.58,"y":0.575},{"x":-1.14,"y":0.515},{"x":-1.78,"y":0.41},{"x":-0.46,"y":0.58},{"x":-0.51,"y":0.425},{"x":-0.70,"y":0.29},{"x":-0.50,"y":0.26},{"x":0.26,"y":0.54},{"x":-0.46,"y":0.195},{"x":-0.34,"y":0.18},{"x":-0.50,"y":0.16},{"x":-0.22,"y":0.14},{"x":0.02,"y":0.127},{"x":0.26,"y":0.14},{"x":0.82,"y":0.165},{"x":1.34,"y":0.12},{"x":1.38,"y":0.077},{"x":-0.86,"y":0.077},{"x":-1.66,"y":0.077},{"x":-1.50,"y":0.055},{"x":-1.74,"y":0.06},
      {"x":-2.11,"y":0},{"x":-2.02,"y":0},{"x":-1.90,"y":0},{"x":-1.50,"y":0},{"x":-1.30,"y":0},{"x":-1.18,"y":0},{"x":-1.07,"y":0},{"x":-0.83,"y":0},{"x":-0.70,"y":0},{"x":-0.59,"y":0},{"x":-0.46,"y":0},{"x":-0.34,"y":0},{"x":-0.22,"y":0},{"x":-0.11,"y":0},{"x":0,"y":0},{"x":0.11,"y":0},{"x":0.22,"y":0},{"x":0.34,"y":0},{"x":0.45,"y":0},{"x":0.90,"y":0},{"x":1.06,"y":0},{"x":1.14,"y":0},{"x":1.26,"y":0},{"x":1.81,"y":0},
      {"x":-2.14,"y":0.03},{"x":-1.34,"y":0.03},{"x":-0.46,"y":0.03},{"x":-0.14,"y":0.03},{"x":0.10,"y":0.03},{"x":0.34,"y":0.03}
    ],
    "f5D": [
      {"x":-4.5,"lo":0.003,"fit":0.18,"hi":0.93},{"x":-3.42,"lo":0.012,"fit":0.197,"hi":0.86},{"x":-2.62,"lo":0.02,"fit":0.21,"hi":0.77},{"x":-1.82,"lo":0.03,"fit":0.22,"hi":0.685},{"x":-1.02,"lo":0.04,"fit":0.24,"hi":0.615},{"x":-0.22,"lo":0.053,"fit":0.26,"hi":0.605},{"x":0.42,"lo":0.056,"fit":0.272,"hi":0.615},{"x":1.06,"lo":0.047,"fit":0.28,"hi":0.685},{"x":2.0,"lo":0.04,"fit":0.29,"hi":0.80}
    ],
    "p5C": [
      {"x":-4.24,"y":0},{"x":-2.98,"y":0},{"x":-2.15,"y":0.965},{"x":-2.11,"y":0.935},{"x":-2.02,"y":0.575},{"x":-1.82,"y":0.585},{"x":-2.15,"y":0.46},{"x":-2.18,"y":0.077},
      {"x":-1.66,"y":0.965},{"x":-1.58,"y":0.99},{"x":-1.69,"y":0.935},{"x":-1.53,"y":0.92},{"x":-1.66,"y":0.43},{"x":-1.53,"y":0.335},{"x":-1.47,"y":0.16},{"x":-1.34,"y":0.21},{"x":-1.26,"y":0.24},{"x":-1.18,"y":0.49},{"x":-1.26,"y":0.04},{"x":-1.66,"y":0.06},
      {"x":-0.94,"y":0.92},{"x":-0.77,"y":0.94},{"x":-0.66,"y":0.905},{"x":-0.73,"y":0.70},{"x":-0.66,"y":0.72},{"x":-0.56,"y":0.75},{"x":-0.48,"y":0.815},{"x":-0.37,"y":0.83},{"x":-0.24,"y":0.85},{"x":-0.56,"y":0.69},{"x":-0.45,"y":0.67},{"x":-0.29,"y":0.68},{"x":-0.16,"y":0.655},{"x":-0.08,"y":0.63},{"x":-0.05,"y":0.84},{"x":0.03,"y":0.86},{"x":0.11,"y":0.89},{"x":0.16,"y":0.95},{"x":0.24,"y":0.965},{"x":0.27,"y":0.995},{"x":0,"y":0.92},{"x":0.15,"y":0.905},
      {"x":-0.37,"y":0.575},{"x":-0.69,"y":0.46},{"x":-0.56,"y":0.40},{"x":-0.29,"y":0.43},{"x":-0.16,"y":0.43},{"x":-0.21,"y":0.36},{"x":-0.08,"y":0.34},{"x":-0.29,"y":0.335},{"x":0,"y":0.33},{"x":-0.16,"y":0.31},{"x":0.11,"y":0.31},{"x":-0.37,"y":0.135},{"x":-0.45,"y":0.10},{"x":-0.21,"y":0.195},{"x":0.03,"y":0.195},{"x":-0.08,"y":0.077},{"x":0.08,"y":0.105},{"x":0.16,"y":0.135},{"x":0,"y":0.06},{"x":-0.18,"y":0.045},{"x":-0.56,"y":0.02},
      {"x":0.52,"y":0.815},{"x":0.56,"y":0.755},{"x":0.76,"y":0.84},{"x":0.84,"y":0.905},{"x":0.92,"y":0.89},{"x":1.0,"y":0.935},{"x":1.08,"y":0.67},{"x":1.21,"y":0.95},{"x":1.32,"y":0.80},{"x":1.76,"y":0.91},{"x":0.68,"y":0.445},{"x":1.24,"y":0.415},{"x":1.40,"y":0.31},
      {"x":-2.18,"y":0},{"x":-1.94,"y":0},{"x":-1.69,"y":0},{"x":-1.45,"y":0},{"x":-1.21,"y":0},{"x":-0.94,"y":0},{"x":-0.69,"y":0},{"x":-0.56,"y":0},{"x":-0.29,"y":0},{"x":-0.08,"y":0},{"x":0.03,"y":0},{"x":0.16,"y":0},{"x":0.27,"y":0},{"x":0.44,"y":0},{"x":0.60,"y":0},{"x":0.76,"y":0},{"x":1.16,"y":0},{"x":1.56,"y":0}
    ],
    "f5C": [
      {"x":-4.5,"lo":0.033,"fit":0.46,"hi":0.935},{"x":-3.27,"lo":0.135,"fit":0.515,"hi":0.89},{"x":-2.47,"lo":0.225,"fit":0.535,"hi":0.845},{"x":-1.66,"lo":0.30,"fit":0.555,"hi":0.785},{"x":-0.85,"lo":0.32,"fit":0.562,"hi":0.755},{"x":-0.05,"lo":0.31,"fit":0.565,"hi":0.765},{"x":0.76,"lo":0.26,"fit":0.56,"hi":0.80},{"x":1.56,"lo":0.195,"fit":0.545,"hi":0.83},{"x":2.0,"lo":0.15,"fit":0.53,"hi":0.845}
    ]
  },
  "vconcat": [
    {
      "hconcat": [
        {"width":206,"height":124,"title":"Nocturnal",
         "encoding":{"x":{"field":"x","type":"quantitative","scale":{"type":"log","domain":[0.346,7228],"nice":false},"axis":{"values":[0.5,5,50,500,5000],"format":"~g","title":null}}},
         "layer":[
          {"data":{"name":"f1N"},"mark":{"type":"area","color":"#7bb5e3","interpolate":"monotone"},"encoding":{"y":{"field":"lo","type":"quantitative","scale":{"domain":[-0.055,1.04],"nice":false,"zero":false},"axis":{"orient":"left","values":[0,0.2,0.4,0.6,0.8,1],"format":"~g","title":"Probability"}},"y2":{"field":"hi"}}},
          {"data":{"name":"f1N"},"mark":{"type":"line","color":"#0b6fc2","strokeWidth":3,"interpolate":"monotone"},"encoding":{"y":{"field":"fit","type":"quantitative","scale":{"domain":[-0.055,1.04],"nice":false,"zero":false},"axis":null}}},
          {"data":{"name":"p1N"},"mark":{"type":"circle","size":22,"fill":"#6e6e6e","fillOpacity":0.6,"stroke":"#1a1a1a","strokeWidth":0.7,"opacity":1},"encoding":{"y":{"field":"y","type":"quantitative","scale":{"domain":[-0.055,1.04],"nice":false,"zero":false},"axis":{"orient":"left","values":[0.1,0.3,0.5,0.7,0.9],"labels":false,"domain":false,"tickSize":3,"title":null}}}}
         ],
         "resolve":{"axis":{"y":"independent"}}},
        {"width":206,"height":124,"title":"Diurnal",
         "encoding":{"x":{"field":"x","type":"quantitative","scale":{"type":"log","domain":[0.346,7228],"nice":false},"axis":{"values":[0.5,5,50,500,5000],"format":"~g","title":"Mass (kg)"}}},
         "layer":[
          {"data":{"name":"f1D"},"mark":{"type":"area","color":"#f6de88","interpolate":"monotone"},"encoding":{"y":{"field":"lo","type":"quantitative","scale":{"domain":[-0.055,1.04],"nice":false,"zero":false},"axis":{"orient":"left","values":[0,0.2,0.4,0.6,0.8,1],"labels":false,"title":null}},"y2":{"field":"hi"}}},
          {"data":{"name":"f1D"},"mark":{"type":"line","color":"#f2c20a","strokeWidth":3,"interpolate":"monotone"},"encoding":{"y":{"field":"fit","type":"quantitative","scale":{"domain":[-0.055,1.04],"nice":false,"zero":false},"axis":null}}},
          {"data":{"name":"p1D"},"mark":{"type":"circle","size":22,"fill":"#6e6e6e","fillOpacity":0.6,"stroke":"#1a1a1a","strokeWidth":0.7,"opacity":1},"encoding":{"y":{"field":"y","type":"quantitative","scale":{"domain":[-0.055,1.04],"nice":false,"zero":false},"axis":{"orient":"left","values":[0.1,0.3,0.5,0.7,0.9],"labels":false,"domain":false,"tickSize":3,"title":null}}}}
         ],
         "resolve":{"axis":{"y":"independent"}}},
        {"width":206,"height":124,"title":"Cathemeral",
         "encoding":{"x":{"field":"x","type":"quantitative","scale":{"type":"log","domain":[0.346,7228],"nice":false},"axis":{"values":[0.5,5,50,500,5000],"format":"~g","title":null}}},
         "layer":[
          {"data":{"name":"f1C"},"mark":{"type":"area","color":"#9b9b9b","interpolate":"monotone"},"encoding":{"y":{"field":"lo","type":"quantitative","scale":{"domain":[-0.055,1.04],"nice":false,"zero":false},"axis":{"orient":"left","values":[0,0.2,0.4,0.6,0.8,1],"labels":false,"title":null}},"y2":{"field":"hi"}}},
          {"data":{"name":"f1C"},"mark":{"type":"line","color":"#383838","strokeWidth":3,"interpolate":"monotone"},"encoding":{"y":{"field":"fit","type":"quantitative","scale":{"domain":[-0.055,1.04],"nice":false,"zero":false},"axis":null}}},
          {"data":{"name":"p1C"},"mark":{"type":"circle","size":22,"fill":"#6e6e6e","fillOpacity":0.6,"stroke":"#1a1a1a","strokeWidth":0.7,"opacity":1},"encoding":{"y":{"field":"y","type":"quantitative","scale":{"domain":[-0.055,1.04],"nice":false,"zero":false},"axis":{"orient":"left","values":[0.1,0.3,0.5,0.7,0.9],"labels":false,"domain":false,"tickSize":3,"title":null}}}}
         ],
         "resolve":{"axis":{"y":"independent"}}}
      ],
      "spacing": 26, "bounds": "flush"
    },
    {
      "hconcat": [
        {"width":206,"height":124,
         "encoding":{"x":{"field":"x","type":"quantitative","scale":{"type":"log","domain":[0.221,118000],"nice":false},"axis":{"values":[0.5,7.25,725,72500],"labelExpr":"datum.value > 70000 ? '72,500' : format(datum.value, '~g')","title":null}}},
         "layer":[
          {"data":{"name":"f2N"},"mark":{"type":"area","color":"#7bb5e3","interpolate":"monotone"},"encoding":{"y":{"field":"lo","type":"quantitative","scale":{"domain":[-0.055,1.04],"nice":false,"zero":false},"axis":{"orient":"left","values":[0,0.2,0.4,0.6,0.8,1],"format":"~g","title":"Probability"}},"y2":{"field":"hi"}}},
          {"data":{"name":"f2N"},"mark":{"type":"line","color":"#0b6fc2","strokeWidth":3,"interpolate":"monotone"},"encoding":{"y":{"field":"fit","type":"quantitative","scale":{"domain":[-0.055,1.04],"nice":false,"zero":false},"axis":null}}},
          {"data":{"name":"p2N"},"mark":{"type":"circle","size":22,"fill":"#6e6e6e","fillOpacity":0.6,"stroke":"#1a1a1a","strokeWidth":0.7,"opacity":1},"encoding":{"y":{"field":"y","type":"quantitative","scale":{"domain":[-0.055,1.04],"nice":false,"zero":false},"axis":{"orient":"left","values":[0.1,0.3,0.5,0.7,0.9],"labels":false,"domain":false,"tickSize":3,"title":null}}}}
         ],
         "resolve":{"axis":{"y":"independent"}}},
        {"width":206,"height":124,
         "encoding":{"x":{"field":"x","type":"quantitative","scale":{"type":"log","domain":[0.221,118000],"nice":false},"axis":{"values":[0.5,7.25,725,72500],"format":"~g","title":"Distributional extent (1000 km sq.)"}}},
         "layer":[
          {"data":{"name":"f2D"},"mark":{"type":"area","color":"#f6de88","interpolate":"monotone"},"encoding":{"y":{"field":"lo","type":"quantitative","scale":{"domain":[-0.055,1.04],"nice":false,"zero":false},"axis":{"orient":"left","values":[0,0.2,0.4,0.6,0.8,1],"labels":false,"title":null}},"y2":{"field":"hi"}}},
          {"data":{"name":"f2D"},"mark":{"type":"line","color":"#f2c20a","strokeWidth":3,"interpolate":"monotone"},"encoding":{"y":{"field":"fit","type":"quantitative","scale":{"domain":[-0.055,1.04],"nice":false,"zero":false},"axis":null}}},
          {"data":{"name":"p2D"},"mark":{"type":"circle","size":22,"fill":"#6e6e6e","fillOpacity":0.6,"stroke":"#1a1a1a","strokeWidth":0.7,"opacity":1},"encoding":{"y":{"field":"y","type":"quantitative","scale":{"domain":[-0.055,1.04],"nice":false,"zero":false},"axis":{"orient":"left","values":[0.1,0.3,0.5,0.7,0.9],"labels":false,"domain":false,"tickSize":3,"title":null}}}}
         ],
         "resolve":{"axis":{"y":"independent"}}},
        {"width":206,"height":124,
         "encoding":{"x":{"field":"x","type":"quantitative","scale":{"type":"log","domain":[0.221,118000],"nice":false},"axis":{"values":[0.5,7.25,725,72500],"labelExpr":"datum.value > 70000 ? '72,500' : format(datum.value, '~g')","title":null}}},
         "layer":[
          {"data":{"name":"f2C"},"mark":{"type":"area","color":"#9b9b9b","interpolate":"monotone"},"encoding":{"y":{"field":"lo","type":"quantitative","scale":{"domain":[-0.055,1.04],"nice":false,"zero":false},"axis":{"orient":"left","values":[0,0.2,0.4,0.6,0.8,1],"labels":false,"title":null}},"y2":{"field":"hi"}}},
          {"data":{"name":"f2C"},"mark":{"type":"line","color":"#383838","strokeWidth":3,"interpolate":"monotone"},"encoding":{"y":{"field":"fit","type":"quantitative","scale":{"domain":[-0.055,1.04],"nice":false,"zero":false},"axis":null}}},
          {"data":{"name":"p2C"},"mark":{"type":"circle","size":22,"fill":"#6e6e6e","fillOpacity":0.6,"stroke":"#1a1a1a","strokeWidth":0.7,"opacity":1},"encoding":{"y":{"field":"y","type":"quantitative","scale":{"domain":[-0.055,1.04],"nice":false,"zero":false},"axis":{"orient":"left","values":[0.1,0.3,0.5,0.7,0.9],"labels":false,"domain":false,"tickSize":3,"title":null}}}}
         ],
         "resolve":{"axis":{"y":"independent"}}}
      ],
      "spacing": 26, "bounds": "flush"
    },
    {
      "hconcat": [
        {"width":206,"height":124,
         "encoding":{"x":{"field":"x","type":"quantitative","scale":{"domain":[-2.4,62.4],"nice":false,"zero":false},"axis":{"values":[0,10,20,30,40,50,60],"title":null}}},
         "layer":[
          {"data":{"name":"f3N"},"mark":{"type":"area","color":"#7bb5e3","interpolate":"monotone"},"encoding":{"y":{"field":"lo","type":"quantitative","scale":{"domain":[-0.055,1.04],"nice":false,"zero":false},"axis":{"orient":"left","values":[0,0.2,0.4,0.6,0.8,1],"format":"~g","title":"Probability"}},"y2":{"field":"hi"}}},
          {"data":{"name":"f3N"},"mark":{"type":"line","color":"#0b6fc2","strokeWidth":3,"interpolate":"monotone"},"encoding":{"y":{"field":"fit","type":"quantitative","scale":{"domain":[-0.055,1.04],"nice":false,"zero":false},"axis":null}}},
          {"data":{"name":"p3N"},"mark":{"type":"circle","size":22,"fill":"#6e6e6e","fillOpacity":0.6,"stroke":"#1a1a1a","strokeWidth":0.7,"opacity":1},"encoding":{"y":{"field":"y","type":"quantitative","scale":{"domain":[-0.055,1.04],"nice":false,"zero":false},"axis":{"orient":"left","values":[0.1,0.3,0.5,0.7,0.9],"labels":false,"domain":false,"tickSize":3,"title":null}}}}
         ],
         "resolve":{"axis":{"y":"independent"}}},
        {"width":206,"height":124,
         "encoding":{"x":{"field":"x","type":"quantitative","scale":{"domain":[-2.4,62.4],"nice":false,"zero":false},"axis":{"values":[0,10,20,30,40,50,60],"title":"Mean distance from equator (decimal degrees)"}}},
         "layer":[
          {"data":{"name":"f3D"},"mark":{"type":"area","color":"#f6de88","interpolate":"monotone"},"encoding":{"y":{"field":"lo","type":"quantitative","scale":{"domain":[-0.055,1.04],"nice":false,"zero":false},"axis":{"orient":"left","values":[0,0.2,0.4,0.6,0.8,1],"labels":false,"title":null}},"y2":{"field":"hi"}}},
          {"data":{"name":"f3D"},"mark":{"type":"line","color":"#f2c20a","strokeWidth":3,"interpolate":"monotone"},"encoding":{"y":{"field":"fit","type":"quantitative","scale":{"domain":[-0.055,1.04],"nice":false,"zero":false},"axis":null}}},
          {"data":{"name":"p3D"},"mark":{"type":"circle","size":22,"fill":"#6e6e6e","fillOpacity":0.6,"stroke":"#1a1a1a","strokeWidth":0.7,"opacity":1},"encoding":{"y":{"field":"y","type":"quantitative","scale":{"domain":[-0.055,1.04],"nice":false,"zero":false},"axis":{"orient":"left","values":[0.1,0.3,0.5,0.7,0.9],"labels":false,"domain":false,"tickSize":3,"title":null}}}}
         ],
         "resolve":{"axis":{"y":"independent"}}},
        {"width":206,"height":124,
         "encoding":{"x":{"field":"x","type":"quantitative","scale":{"domain":[-2.4,62.4],"nice":false,"zero":false},"axis":{"values":[0,10,20,30,40,50,60],"title":null}}},
         "layer":[
          {"data":{"name":"f3C"},"mark":{"type":"area","color":"#9b9b9b","interpolate":"monotone"},"encoding":{"y":{"field":"lo","type":"quantitative","scale":{"domain":[-0.055,1.04],"nice":false,"zero":false},"axis":{"orient":"left","values":[0,0.2,0.4,0.6,0.8,1],"labels":false,"title":null}},"y2":{"field":"hi"}}},
          {"data":{"name":"f3C"},"mark":{"type":"line","color":"#383838","strokeWidth":3,"interpolate":"monotone"},"encoding":{"y":{"field":"fit","type":"quantitative","scale":{"domain":[-0.055,1.04],"nice":false,"zero":false},"axis":null}}},
          {"data":{"name":"p3C"},"mark":{"type":"circle","size":22,"fill":"#6e6e6e","fillOpacity":0.6,"stroke":"#1a1a1a","strokeWidth":0.7,"opacity":1},"encoding":{"y":{"field":"y","type":"quantitative","scale":{"domain":[-0.055,1.04],"nice":false,"zero":false},"axis":{"orient":"left","values":[0.1,0.3,0.5,0.7,0.9],"labels":false,"domain":false,"tickSize":3,"title":null}}}}
         ],
         "resolve":{"axis":{"y":"independent"}}}
      ],
      "spacing": 26, "bounds": "flush"
    },
    {
      "hconcat": [
        {"width":206,"height":124,
         "encoding":{"x":{"field":"x","type":"quantitative","scale":{"domain":[8.8,14.2],"nice":false,"zero":false},"axis":{"values":[9,10,11,12,13,14],"title":null}}},
         "layer":[
          {"data":{"name":"f4N"},"mark":{"type":"area","color":"#7bb5e3","interpolate":"monotone"},"encoding":{"y":{"field":"lo","type":"quantitative","scale":{"domain":[-0.055,1.04],"nice":false,"zero":false},"axis":{"orient":"left","values":[0,0.2,0.4,0.6,0.8,1],"format":"~g","title":"Probability"}},"y2":{"field":"hi"}}},
          {"data":{"name":"f4N"},"mark":{"type":"line","color":"#0b6fc2","strokeWidth":3,"interpolate":"monotone"},"encoding":{"y":{"field":"fit","type":"quantitative","scale":{"domain":[-0.055,1.04],"nice":false,"zero":false},"axis":null}}},
          {"data":{"name":"p4N"},"mark":{"type":"circle","size":22,"fill":"#6e6e6e","fillOpacity":0.6,"stroke":"#1a1a1a","strokeWidth":0.7,"opacity":1},"encoding":{"y":{"field":"y","type":"quantitative","scale":{"domain":[-0.055,1.04],"nice":false,"zero":false},"axis":{"orient":"left","values":[0.1,0.3,0.5,0.7,0.9],"labels":false,"domain":false,"tickSize":3,"title":null}}}}
         ],
         "resolve":{"axis":{"y":"independent"}}},
        {"width":206,"height":124,
         "encoding":{"x":{"field":"x","type":"quantitative","scale":{"domain":[8.8,14.2],"nice":false,"zero":false},"axis":{"values":[9,10,11,12,13,14],"title":"Mean hours per day"}}},
         "layer":[
          {"data":{"name":"f4D"},"mark":{"type":"area","color":"#f6de88","interpolate":"monotone"},"encoding":{"y":{"field":"lo","type":"quantitative","scale":{"domain":[-0.055,1.04],"nice":false,"zero":false},"axis":{"orient":"left","values":[0,0.2,0.4,0.6,0.8,1],"labels":false,"title":null}},"y2":{"field":"hi"}}},
          {"data":{"name":"f4D"},"mark":{"type":"line","color":"#f2c20a","strokeWidth":3,"interpolate":"monotone"},"encoding":{"y":{"field":"fit","type":"quantitative","scale":{"domain":[-0.055,1.04],"nice":false,"zero":false},"axis":null}}},
          {"data":{"name":"p4D"},"mark":{"type":"circle","size":22,"fill":"#6e6e6e","fillOpacity":0.6,"stroke":"#1a1a1a","strokeWidth":0.7,"opacity":1},"encoding":{"y":{"field":"y","type":"quantitative","scale":{"domain":[-0.055,1.04],"nice":false,"zero":false},"axis":{"orient":"left","values":[0.1,0.3,0.5,0.7,0.9],"labels":false,"domain":false,"tickSize":3,"title":null}}}}
         ],
         "resolve":{"axis":{"y":"independent"}}},
        {"width":206,"height":124,
         "encoding":{"x":{"field":"x","type":"quantitative","scale":{"domain":[8.8,14.2],"nice":false,"zero":false},"axis":{"values":[9,10,11,12,13,14],"title":null}}},
         "layer":[
          {"data":{"name":"f4C"},"mark":{"type":"area","color":"#9b9b9b","interpolate":"monotone"},"encoding":{"y":{"field":"lo","type":"quantitative","scale":{"domain":[-0.055,1.04],"nice":false,"zero":false},"axis":{"orient":"left","values":[0,0.2,0.4,0.6,0.8,1],"labels":false,"title":null}},"y2":{"field":"hi"}}},
          {"data":{"name":"f4C"},"mark":{"type":"line","color":"#383838","strokeWidth":3,"interpolate":"monotone"},"encoding":{"y":{"field":"fit","type":"quantitative","scale":{"domain":[-0.055,1.04],"nice":false,"zero":false},"axis":null}}},
          {"data":{"name":"p4C"},"mark":{"type":"circle","size":22,"fill":"#6e6e6e","fillOpacity":0.6,"stroke":"#1a1a1a","strokeWidth":0.7,"opacity":1},"encoding":{"y":{"field":"y","type":"quantitative","scale":{"domain":[-0.055,1.04],"nice":false,"zero":false},"axis":{"orient":"left","values":[0.1,0.3,0.5,0.7,0.9],"labels":false,"domain":false,"tickSize":3,"title":null}}}}
         ],
         "resolve":{"axis":{"y":"independent"}}}
      ],
      "spacing": 26, "bounds": "flush"
    },
    {
      "hconcat": [
        {"width":206,"height":124,
         "encoding":{"x":{"field":"x","type":"quantitative","scale":{"domain":[-4.76,2.26],"nice":false,"zero":false},"axis":{"values":[-4,-3,-2,-1,0,1,2],"title":null}}},
         "layer":[
          {"data":{"name":"f5N"},"mark":{"type":"area","color":"#7bb5e3","interpolate":"monotone"},"encoding":{"y":{"field":"lo","type":"quantitative","scale":{"domain":[-0.055,1.04],"nice":false,"zero":false},"axis":{"orient":"left","values":[0,0.2,0.4,0.6,0.8,1],"format":"~g","title":"Probability"}},"y2":{"field":"hi"}}},
          {"data":{"name":"f5N"},"mark":{"type":"line","color":"#0b6fc2","strokeWidth":3,"interpolate":"monotone"},"encoding":{"y":{"field":"fit","type":"quantitative","scale":{"domain":[-0.055,1.04],"nice":false,"zero":false},"axis":null}}},
          {"data":{"name":"p5N"},"mark":{"type":"circle","size":22,"fill":"#6e6e6e","fillOpacity":0.6,"stroke":"#1a1a1a","strokeWidth":0.7,"opacity":1},"encoding":{"y":{"field":"y","type":"quantitative","scale":{"domain":[-0.055,1.04],"nice":false,"zero":false},"axis":{"orient":"left","values":[0.1,0.3,0.5,0.7,0.9],"labels":false,"domain":false,"tickSize":3,"title":null}}}}
         ],
         "resolve":{"axis":{"y":"independent"}}},
        {"width":206,"height":124,
         "encoding":{"x":{"field":"x","type":"quantitative","scale":{"domain":[-4.76,2.26],"nice":false,"zero":false},"axis":{"values":[-4,-3,-2,-1,0,1,2],"title":"Mean global human footprint"}}},
         "layer":[
          {"data":{"name":"f5D"},"mark":{"type":"area","color":"#f6de88","interpolate":"monotone"},"encoding":{"y":{"field":"lo","type":"quantitative","scale":{"domain":[-0.055,1.04],"nice":false,"zero":false},"axis":{"orient":"left","values":[0,0.2,0.4,0.6,0.8,1],"labels":false,"title":null}},"y2":{"field":"hi"}}},
          {"data":{"name":"f5D"},"mark":{"type":"line","color":"#f2c20a","strokeWidth":3,"interpolate":"monotone"},"encoding":{"y":{"field":"fit","type":"quantitative","scale":{"domain":[-0.055,1.04],"nice":false,"zero":false},"axis":null}}},
          {"data":{"name":"p5D"},"mark":{"type":"circle","size":22,"fill":"#6e6e6e","fillOpacity":0.6,"stroke":"#1a1a1a","strokeWidth":0.7,"opacity":1},"encoding":{"y":{"field":"y","type":"quantitative","scale":{"domain":[-0.055,1.04],"nice":false,"zero":false},"axis":{"orient":"left","values":[0.1,0.3,0.5,0.7,0.9],"labels":false,"domain":false,"tickSize":3,"title":null}}}}
         ],
         "resolve":{"axis":{"y":"independent"}}},
        {"width":206,"height":124,
         "encoding":{"x":{"field":"x","type":"quantitative","scale":{"domain":[-4.76,2.26],"nice":false,"zero":false},"axis":{"values":[-4,-3,-2,-1,0,1,2],"title":null}}},
         "layer":[
          {"data":{"name":"f5C"},"mark":{"type":"area","color":"#9b9b9b","interpolate":"monotone"},"encoding":{"y":{"field":"lo","type":"quantitative","scale":{"domain":[-0.055,1.04],"nice":false,"zero":false},"axis":{"orient":"left","values":[0,0.2,0.4,0.6,0.8,1],"labels":false,"title":null}},"y2":{"field":"hi"}}},
          {"data":{"name":"f5C"},"mark":{"type":"line","color":"#383838","strokeWidth":3,"interpolate":"monotone"},"encoding":{"y":{"field":"fit","type":"quantitative","scale":{"domain":[-0.055,1.04],"nice":false,"zero":false},"axis":null}}},
          {"data":{"name":"p5C"},"mark":{"type":"circle","size":22,"fill":"#6e6e6e","fillOpacity":0.6,"stroke":"#1a1a1a","strokeWidth":0.7,"opacity":1},"encoding":{"y":{"field":"y","type":"quantitative","scale":{"domain":[-0.055,1.04],"nice":false,"zero":false},"axis":{"orient":"left","values":[0.1,0.3,0.5,0.7,0.9],"labels":false,"domain":false,"tickSize":3,"title":null}}}}
         ],
         "resolve":{"axis":{"y":"independent"}}}
      ],
      "spacing": 26, "bounds": "flush"
    }
  ],
  "spacing": 202,
  "bounds": "flush"
}
